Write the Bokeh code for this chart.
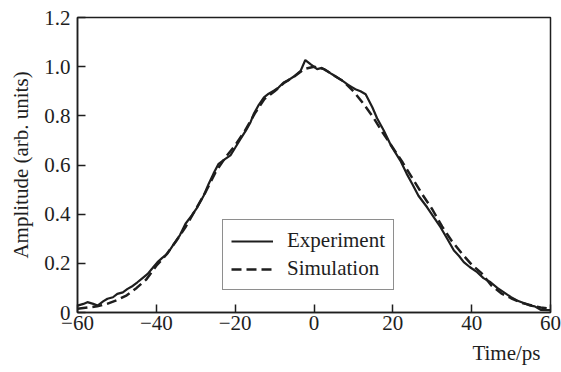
from bokeh.plotting import figure
from bokeh.models import Range1d, FixedTicker, Legend, LegendItem, Title
from bokeh.embed import file_html
from bokeh.resources import INLINE

# Experiment (solid)
exp_time = [-60, -58.5, -57.5, -56, -54.9, -53.5, -52.4, -51, -49.9, -48.5, -47.3, -46, -44.8,
            -43.5, -42.2, -41, -39.7, -38.5, -37.2, -35.5, -34, -32.6, -31, -29.6, -28, -26.7,
            -25.5, -24.2, -22.5, -21.2, -20, -18.6, -17.3, -16.1, -15.3, -14, -12.7, -11.5,
            -10.2, -9, -7.7, -6.5, -5.1, -3.4, -2.2, -0.9, 0.8, 2, 3.3, 4.5, 5.9, 7, 8.4, 9.5,
            10.5, 11.8, 13.1, 14.8, 16, 17.7, 19.5, 21.9, 23.5, 24.9, 26.5, 28.7, 30.5, 32.1,
            33.8, 35.5, 36.8, 38.0, 39.5, 41.4, 43, 44.8, 46.5, 48.1, 50, 51.5, 53, 54.9, 56,
            57.5, 59.5, 60]
exp_amp = [0.028, 0.035, 0.042, 0.035, 0.028, 0.045, 0.056, 0.062, 0.076, 0.082, 0.096, 0.108,
           0.123, 0.14, 0.157, 0.18, 0.205, 0.222, 0.239, 0.28, 0.315, 0.361, 0.395, 0.428,
           0.475, 0.524, 0.565, 0.605, 0.625, 0.639, 0.67, 0.707, 0.74, 0.774, 0.807, 0.845,
           0.875, 0.89, 0.902, 0.915, 0.936, 0.945, 0.96, 0.983, 1.027, 1.01, 0.99, 0.995,
           0.983, 0.97, 0.956, 0.945, 0.929, 0.918, 0.908, 0.9, 0.888, 0.835, 0.79, 0.74, 0.68,
           0.618, 0.565, 0.524, 0.475, 0.428, 0.385, 0.347, 0.3, 0.252, 0.23, 0.205, 0.185,
           0.164, 0.14, 0.123, 0.1, 0.083, 0.062, 0.049, 0.04, 0.028, 0.025, 0.011, 0.01, 0.01]

# Simulation (dashed)
sim_time = [-60, -57.5, -55, -52.5, -50, -47.5, -45, -42.5, -40, -37.5, -35, -32.5, -30, -27.5,
            -25, -22.5, -20, -17.5, -15, -12.5, -10, -7.5, -5, -2.5, 0, 2.5, 5, 7.5, 10, 12.5,
            15, 17.5, 20, 22.5, 25, 27.5, 30, 32.5, 35, 37.5, 40, 42.5, 45, 47.5, 50, 52.5, 55,
            57.5, 60]
sim_amp = [0.015, 0.02, 0.025, 0.035, 0.05, 0.07, 0.1, 0.135, 0.19, 0.235, 0.29, 0.35, 0.42,
           0.49, 0.57, 0.63, 0.68, 0.74, 0.81, 0.87, 0.9, 0.935, 0.96, 0.99, 1.0, 0.99, 0.965,
           0.94, 0.9, 0.85, 0.795, 0.73, 0.67, 0.61, 0.545, 0.48, 0.42, 0.35, 0.29, 0.24, 0.195,
           0.16, 0.11, 0.078, 0.058, 0.04, 0.03, 0.02, 0.015]

x_ticks = [-60, -40, -20, 0, 20, 40, 60]
x_tick_labels = ["\u221260", "\u221240", "\u221220", "0", "20", "40", "60"]
y_ticks = [0, 0.2, 0.4, 0.6, 0.8, 1.0, 1.2]
y_tick_labels = ["0", "0.2", "0.4", "0.6", "0.8", "1.0", "1.2"]

FONT = "Liberation Serif"
INK = "#1e1e1e"

p = figure(width=561, height=372, output_backend="svg", toolbar_location=None,
           x_range=Range1d(-60, 60), y_range=Range1d(0, 1.2),
           min_border_left=77, min_border_right=11, min_border_top=17, min_border_bottom=60)
p.xgrid.visible = False
p.ygrid.visible = False
p.outline_line_color = INK
p.outline_line_width = 1.5
p.outline_line_alpha = 1.0
p.background_fill_color = "white"
p.border_fill_color = "white"

for ax in (p.xaxis[0], p.yaxis[0]):
    ax.major_tick_in = 8
    ax.major_tick_out = 0
    ax.minor_tick_in = 0
    ax.minor_tick_out = 0
    ax.axis_line_color = INK
    ax.axis_line_width = 1.5
    ax.major_tick_line_color = INK
    ax.major_tick_line_width = 1.5
    ax.major_label_text_font = FONT
    ax.major_label_text_font_size = "21px"
    ax.major_label_text_color = INK

p.xaxis[0].ticker = FixedTicker(ticks=x_ticks)
p.xaxis[0].major_label_overrides = dict(zip(x_ticks, x_tick_labels))
p.xaxis[0].major_label_standoff = 3
p.yaxis[0].ticker = FixedTicker(ticks=y_ticks)
p.yaxis[0].major_label_overrides = dict(zip(y_ticks, y_tick_labels))
p.yaxis[0].major_label_standoff = 7
p.yaxis[0].axis_label = "Amplitude (arb. units)"
p.yaxis[0].axis_label_text_font = FONT
p.yaxis[0].axis_label_text_font_size = "21px"
p.yaxis[0].axis_label_text_font_style = "normal"
p.yaxis[0].axis_label_text_color = INK
p.yaxis[0].axis_label_standoff = 8

r_sim = p.line(sim_time, sim_amp, line_color=INK, line_width=2.5, line_dash="10 5")
r_exp = p.line(exp_time, exp_amp, line_color=INK, line_width=2.2)

legend = Legend(items=[LegendItem(label="Experiment", renderers=[r_exp]),
                       LegendItem(label="Simulation", renderers=[r_sim])],
                location=(145, 22))
legend.label_text_font = FONT
legend.label_text_font_size = "21px"
legend.label_text_color = INK
legend.glyph_width = 42
legend.glyph_height = 22
legend.label_standoff = 14
legend.padding = 8
legend.spacing = 3
legend.margin = 0
legend.border_line_color = INK
legend.border_line_width = 1
legend.background_fill_alpha = 1.0
p.add_layout(legend)

xlabel = Title(text="Time/ps", align="right", offset=10, standoff=13,
               text_font=FONT, text_font_size="21px", text_font_style="normal",
               text_color=INK)
p.add_layout(xlabel, "below")

open("out.html", "w").write(file_html(p, INLINE))
